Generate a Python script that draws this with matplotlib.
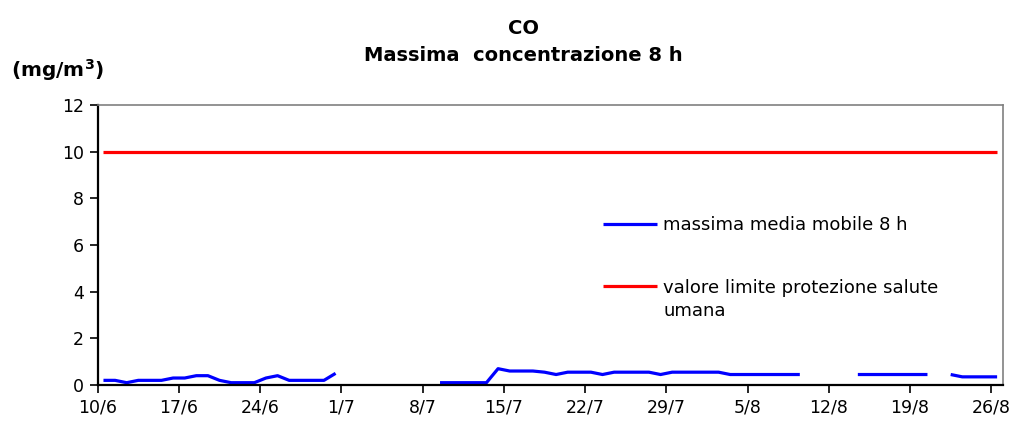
import numpy as np
import pandas as pd
import matplotlib
matplotlib.use('Agg')
import matplotlib.pyplot as plt

# Giorni di misura (10/6 - 26/8)
giorni = pd.date_range('2007-06-10', '2007-08-26', freq='D')

# Massima media mobile 8 h (mg/m3), NaN = dato mancante
nan = np.nan
co_max8h = ([0.2, 0.2, 0.1, 0.2, 0.2, 0.2, 0.3, 0.3, 0.4, 0.4, 0.2, 0.1, 0.1, 0.1,
             0.3, 0.4, 0.2, 0.2, 0.2, 0.2, 0.5]
            + [nan] * 8
            + [0.1] * 5 + [0.7] + [0.6] * 3 + [0.55, 0.45] + [0.55] * 3 + [0.45]
            + [0.55] * 4 + [0.45] + [0.55] * 5 + [0.45] * 7
            + [nan] * 4
            + [0.45] * 7 + [nan] + [0.45] + [0.35] * 4)

valore_limite = [10] * len(giorni)

etichette = [f'{d.day}/{d.month}' for d in giorni]

fig = plt.figure(figsize=(10.11, 4.26), dpi=100)
ax = fig.add_axes([0.0966, 0.0962, 0.8954, 0.6573])

x = np.arange(len(giorni)) + 0.5
ax.plot(x, co_max8h, color='#0000ff', linewidth=2.3, solid_capstyle='butt',
        label='massima media mobile 8 h')
ax.plot(x, valore_limite, color='#ff0000', linewidth=2.3, solid_capstyle='butt',
        label='valore limite protezione salute')

ax.set_xlim(0, len(giorni))
ax.set_ylim(0, 12)
ax.set_yticks(range(0, 13, 2))
ax.set_xticks(np.arange(0, len(giorni), 7))
ax.set_xticklabels(etichette[::7])
ax.tick_params(axis='both', labelsize=12.5, length=6, width=1.2, color='black', pad=4)

for lato in ['left', 'bottom']:
    ax.spines[lato].set_color('black')
    ax.spines[lato].set_linewidth(1.6)
for lato in ['top', 'right']:
    ax.spines[lato].set_color('#808080')
    ax.spines[lato].set_linewidth(1.2)

ax.legend(loc='upper left', bbox_to_anchor=(0.5964, 0.492), bbox_transform=fig.transFigure,
          frameon=False, fontsize=13, handlelength=3.0, handletextpad=0.33,
          labelspacing=2.45, borderaxespad=0, borderpad=0)
# seconda riga dell'etichetta del valore limite
fig.text(0.656, 0.27, 'umana', ha='left', va='center', fontsize=13)

fig.text(0.518, 0.934, 'CO', ha='center', va='center', fontsize=14, fontweight='bold')
fig.text(0.518, 0.869, 'Massima  concentrazione 8 h', ha='center', va='center',
         fontsize=14, fontweight='bold')
fig.text(0.011, 0.836, '(mg/m$^{\\mathbf{3}}$)', ha='left', va='center', fontsize=14.5,
         fontweight='bold')

fig.savefig('out.png', dpi=100)
